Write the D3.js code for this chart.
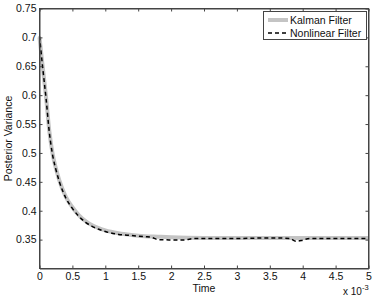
<!DOCTYPE html>
<html>
<head>
<meta charset="utf-8">
<script src="https://cdn.jsdelivr.net/npm/d3@7"></script>
<style>
  body { margin: 0; background: #fff; }
  text { font-family: "Liberation Sans", Arial, sans-serif; fill: #111; }
</style>
</head>
<body>
<script>
var width = 374,
    height = 296;

// time in units of 1e-3
var kalmanT = [0, 0.05, 0.1, 0.15, 0.2, 0.25, 0.3, 0.4, 0.5, 0.6, 0.7, 0.8, 0.9, 1.0, 1.2, 1.4, 1.6, 1.8, 2.0, 2.5, 3.0, 3.5, 4.0, 4.5, 5.0];
var kalmanV = [0.700, 0.648, 0.596, 0.537, 0.498, 0.473, 0.453, 0.424, 0.406, 0.392, 0.382, 0.375, 0.370, 0.366, 0.361, 0.358, 0.356, 0.355, 0.354, 0.353, 0.353, 0.353, 0.353, 0.353, 0.353];

var nonlinT = [0, 0.05, 0.1, 0.15, 0.2, 0.25, 0.3, 0.4, 0.5, 0.6, 0.7, 0.8, 0.9, 1.0, 1.2, 1.4, 1.6, 1.7, 1.8, 2.0, 2.2, 2.35, 2.5, 3.0, 3.5, 3.8, 3.9, 4.0, 4.1, 4.5, 5.0];
var nonlinV = [0.702, 0.646, 0.594, 0.535, 0.496, 0.471, 0.451, 0.422, 0.404, 0.390, 0.380, 0.373, 0.368, 0.364, 0.359, 0.357, 0.355, 0.354, 0.350, 0.3495, 0.3495, 0.352, 0.352, 0.352, 0.353, 0.352, 0.347, 0.349, 0.352, 0.352, 0.352];

var xTicks = [0, 0.5, 1, 1.5, 2, 2.5, 3, 3.5, 4, 4.5, 5];
var yTicks = [0.35, 0.4, 0.45, 0.5, 0.55, 0.6, 0.65, 0.7, 0.75];
var legendLabels = ["Kalman Filter", "Nonlinear Filter"];

var pLeft = 39.5, pRight = 368.5, pTop = 8.5, pBottom = 268.5;

var x = d3.scaleLinear().domain([0, 5]).range([pLeft, pRight]);
var y = d3.scaleLinear().domain([0.3, 0.75]).range([pBottom, pTop]);

var svg = d3.select("body").append("svg")
    .attr("width", width)
    .attr("height", height);

var line = d3.line()
    .x(function(d) { return x(d[0]); })
    .y(function(d) { return y(d[1]); })
    .curve(d3.curveMonotoneX);

var kalman = kalmanT.map(function(t, i) { return [t, kalmanV[i]]; });
var nonlin = nonlinT.map(function(t, i) { return [t, nonlinV[i]]; });

svg.append("path")
    .attr("d", line(kalman))
    .attr("fill", "none")
    .attr("stroke", "#c4c4c4")
    .attr("stroke-width", 4);

svg.append("path")
    .attr("d", line(nonlin))
    .attr("fill", "none")
    .attr("stroke", "#000")
    .attr("stroke-width", 1.5)
    .attr("stroke-dasharray", "4,3");

// axes, matlab style box with inward ticks
var fs = "10.5px";
var axisCol = "#444";

svg.append("g")
    .attr("transform", "translate(0," + pBottom + ")")
    .call(d3.axisBottom(x).tickValues(xTicks).tickSizeInner(-3).tickSizeOuter(0).tickPadding(4)
      .tickFormat(d3.format("")))
    .call(function(g) {
      g.select(".domain").attr("stroke", axisCol);
      g.selectAll(".tick line").attr("stroke", axisCol);
      g.selectAll("text").style("font-size", fs).attr("fill", "#111");
    });

svg.append("g")
    .attr("transform", "translate(0," + pTop + ")")
    .call(d3.axisTop(x).tickValues(xTicks).tickSizeInner(-3).tickSizeOuter(0).tickFormat(""))
    .call(function(g) {
      g.select(".domain").attr("stroke", axisCol);
      g.selectAll(".tick line").attr("stroke", axisCol);
    });

svg.append("g")
    .attr("transform", "translate(" + pLeft + ",0)")
    .call(d3.axisLeft(y).tickValues(yTicks).tickSizeInner(-3).tickSizeOuter(0).tickPadding(3)
      .tickFormat(d3.format("")))
    .call(function(g) {
      g.select(".domain").attr("stroke", axisCol);
      g.selectAll(".tick line").attr("stroke", axisCol);
      g.selectAll("text").style("font-size", fs).attr("fill", "#111");
    });

svg.append("g")
    .attr("transform", "translate(" + pRight + ",0)")
    .call(d3.axisRight(y).tickValues(yTicks).tickSizeInner(-3).tickSizeOuter(0).tickFormat(""))
    .call(function(g) {
      g.select(".domain").attr("stroke", axisCol);
      g.selectAll(".tick line").attr("stroke", axisCol);
    });

svg.append("rect")
    .attr("x", pLeft).attr("y", pTop)
    .attr("width", pRight - pLeft).attr("height", pBottom - pTop)
    .attr("fill", "none").attr("stroke", axisCol);

// labels
svg.append("text")
    .attr("x", (pLeft + pRight) / 2)
    .attr("y", 292)
    .attr("text-anchor", "middle")
    .style("font-size", fs)
    .text("Time");

svg.append("text")
    .attr("transform", "translate(12," + ((pTop + pBottom) / 2) + ") rotate(-90)")
    .attr("text-anchor", "middle")
    .style("font-size", fs)
    .text("Posterior Variance");

var mult = svg.append("text")
    .attr("x", 343)
    .attr("y", 295)
    .style("font-size", "10px");
mult.append("tspan").text("x 10");
mult.append("tspan").attr("dy", -5).style("font-size", "7.5px").text("-3");

// legend
var lg = svg.append("g");
lg.append("rect")
    .attr("x", 263.5).attr("y", 11.5)
    .attr("width", 103).attr("height", 28)
    .attr("fill", "#fff").attr("stroke", axisCol);

lg.append("line")
    .attr("x1", 268).attr("x2", 288).attr("y1", 20).attr("y2", 20)
    .attr("stroke", "#c4c4c4").attr("stroke-width", 4);
lg.append("line")
    .attr("x1", 268).attr("x2", 288).attr("y1", 33).attr("y2", 33)
    .attr("stroke", "#000").attr("stroke-width", 1.5).attr("stroke-dasharray", "4,3");

lg.selectAll("text.leg")
    .data(legendLabels)
    .enter().append("text")
    .attr("class", "leg")
    .attr("x", 290)
    .attr("y", function(d, i) { return 24 + i * 13; })
    .style("font-size", fs)
    .text(function(d) { return d; });
</script>
</body>
</html>
